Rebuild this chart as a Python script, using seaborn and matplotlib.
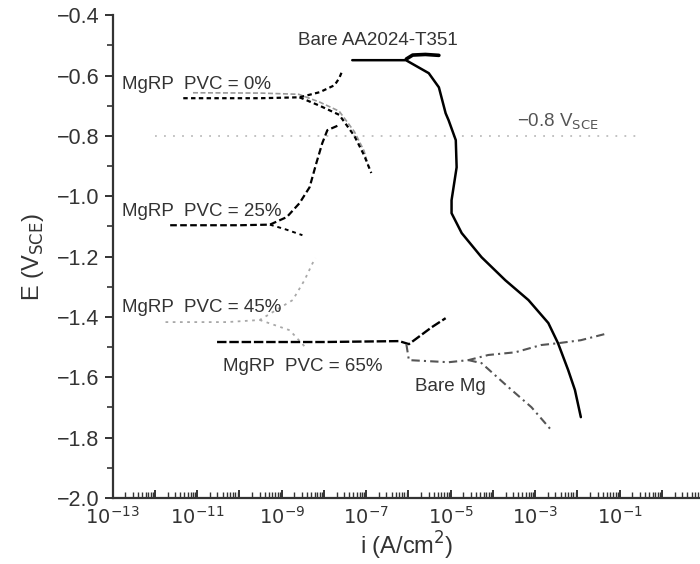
import numpy as np
import matplotlib
matplotlib.use("Agg")
import matplotlib.pyplot as plt
import matplotlib.ticker as mticker
import seaborn as sns

# log10(i) and E values
aa_logi = [-7.33, -6.06, -5.52, -5.28, -5.12, -5.05, -4.88, -4.86, -4.98, -4.98,
           -4.74, -4.27, -3.71, -3.16, -2.69, -2.46, -2.22, -2.06, -1.92]
aa_e = [-0.549, -0.549, -0.592, -0.639, -0.725, -0.748, -0.814, -0.904, -1.013, -1.056,
        -1.122, -1.202, -1.278, -1.344, -1.420, -1.487, -1.576, -1.642, -1.732]
aa_an_logi = [-6.05, -5.9, -5.6, -5.28]
aa_an_e = [-0.545, -0.532, -0.530, -0.533]

p0_logi = [-11.33, -9.5, -8.58, -8.1, -7.75, -7.64, -7.56]
p0_e = [-0.675, -0.675, -0.672, -0.655, -0.632, -0.609, -0.582]
p0c_logi = [-8.58, -8.1, -7.64, -7.28, -7.05, -6.88]
p0c_e = [-0.672, -0.700, -0.730, -0.800, -0.864, -0.923]
p0g_logi = [-11.1, -9.5, -8.6, -8.1, -7.64, -7.28, -7.05, -6.95]
p0g_e = [-0.657, -0.658, -0.662, -0.688, -0.718, -0.786, -0.850, -0.900]

p25_logi = [-11.64, -10.0, -9.28, -8.88, -8.58, -8.34, -8.18, -8.04, -7.92, -7.64]
p25_e = [-1.096, -1.096, -1.094, -1.069, -1.023, -0.970, -0.890, -0.824, -0.781, -0.764]
p25c_logi = [-9.28, -8.9, -8.51]
p25c_e = [-1.094, -1.110, -1.129]

p45_logi = [-11.75, -10.3, -9.52, -8.74, -8.46, -8.27, -8.2]
p45_e = [-1.417, -1.417, -1.410, -1.344, -1.278, -1.222, -1.205]
p45c_logi = [-9.52, -8.81, -8.41]
p45c_e = [-1.410, -1.444, -1.505]

p65_logi = [-10.53, -8.0, -6.22, -5.99, -5.70, -5.45, -5.12]
p65_e = [-1.483, -1.483, -1.480, -1.490, -1.460, -1.434, -1.404]

mg_logi = [-6.05, -5.99, -5.05, -4.58, -4.11, -3.47, -2.86, -2.46, -1.92, -1.28]
mg_e = [-1.490, -1.543, -1.550, -1.543, -1.526, -1.517, -1.493, -1.487, -1.477, -1.454]
mgc_logi = [-4.58, -4.27, -3.64, -3.09, -2.62]
mgc_e = [-1.543, -1.553, -1.632, -1.699, -1.775]

ref_logi = [-12.0, -0.58]
ref_e = [-0.8, -0.8]

sns.set_style("ticks")
plt.rcParams["font.family"] = ["Liberation Sans", "DejaVu Sans"]

fig = plt.figure(figsize=(7, 5.64), dpi=100)
ax = fig.add_axes([0.161, 0.117, 0.839, 0.856])


def curve(lx, e, **kw):
    sns.lineplot(x=10 ** np.array(lx), y=e, sort=False, estimator=None, ax=ax, **kw)


curve(ref_logi, ref_e, color="#bdbdbd", lw=1.3, linestyle=(0, (1, 4)))
curve(p0g_logi, p0g_e, color="#9a9a9a", lw=1.2, linestyle=(0, (3, 1.5)))
curve(p0_logi, p0_e, color="black", lw=1.6, linestyle=(0, (2, 1.5)))
curve(p0c_logi, p0c_e, color="black", lw=1.6, linestyle=(0, (2, 1.5)))
curve(p25_logi, p25_e, color="black", lw=1.6, linestyle=(0, (3, 1.5)))
curve(p25c_logi, p25c_e, color="black", lw=1.4, linestyle=(0, (2, 2)))
curve(p45_logi, p45_e, color="#a8a8a8", lw=1.3, linestyle=(0, (1.5, 2.5)))
curve(p45c_logi, p45c_e, color="#a8a8a8", lw=1.3, linestyle=(0, (1.5, 2.5)))
curve(p65_logi, p65_e, color="black", lw=1.7, linestyle=(0, (4, 1.2)))
curve(mg_logi, mg_e, color="#555555", lw=1.5, linestyle=(0, (4, 2, 1, 2)))
curve(mgc_logi, mgc_e, color="#555555", lw=1.5, linestyle=(0, (4, 2, 1, 2)))
curve(aa_logi, aa_e, color="black", lw=1.8)
curve(aa_an_logi, aa_an_e, color="black", lw=2.6)

ax.set_xscale("log")
ax.set_xlim(1e-13, 10 ** 0.9)
ax.set_ylim(-2.0, -0.4)
sns.despine(ax=ax)
for s in ["left", "bottom"]:
    ax.spines[s].set_linewidth(1.6)
    ax.spines[s].set_color("#333333")

ax.set_yticks(np.arange(-2.0, -0.39, 0.2))
ax.yaxis.set_minor_locator(mticker.MultipleLocator(0.1))
ax.yaxis.set_major_formatter(mticker.FuncFormatter(lambda v, p: f"{v:.1f}".replace("-", "\u2212")))

ax.xaxis.set_major_locator(mticker.LogLocator(base=10, numticks=30))
ax.xaxis.set_minor_locator(mticker.LogLocator(base=10, subs=np.arange(2, 10), numticks=30))
ax.xaxis.set_minor_formatter(mticker.NullFormatter())


def xfmt(v, p):
    k = int(round(np.log10(v)))
    return f"$10^{{{k}}}$" if k % 2 else ""


ax.xaxis.set_major_formatter(mticker.FuncFormatter(xfmt))
ax.tick_params(axis="y", which="major", length=6, width=1.4, labelsize=15.5, colors="#333333")
ax.tick_params(axis="y", which="minor", length=4, width=1.2, colors="#333333")
ax.tick_params(axis="x", which="major", direction="in", length=6, width=1.4, labelsize=14, colors="#333333", pad=6)
ax.tick_params(axis="x", which="minor", direction="in", length=4, width=1.0, colors="#333333")

ax.set_ylabel("E (V$_{\\mathrm{SCE}}$)", fontsize=17, color="#333333", labelpad=8)
ax.set_xlabel("i (A/cm$^{2}$)", fontsize=17, color="#333333", labelpad=1)

tk = dict(fontsize=13.5, color="#333333")
ax.text(1.9e-7, -0.485, "Bare AA2024-T351", ha="center", va="center", **tk)
ax.text(1.7e-13, -0.63, "MgRP  PVC = 0%", ha="left", va="center", **tk)
ax.text(1.7e-13, -1.05, "MgRP  PVC = 25%", ha="left", va="center", **tk)
ax.text(1.7e-13, -1.37, "MgRP  PVC = 45%", ha="left", va="center", **tk)
ax.text(4e-11, -1.565, "MgRP  PVC = 65%", ha="left", va="center", **tk)
ax.text(1.4e-6, -1.63, "Bare Mg", ha="left", va="center", **tk)
ax.text(3.5e-3, -0.755, "\u22120.8 V$_{\\mathrm{SCE}}$", ha="center", va="center", fontsize=13.5, color="#555555")

fig.savefig("out.png", dpi=100)
